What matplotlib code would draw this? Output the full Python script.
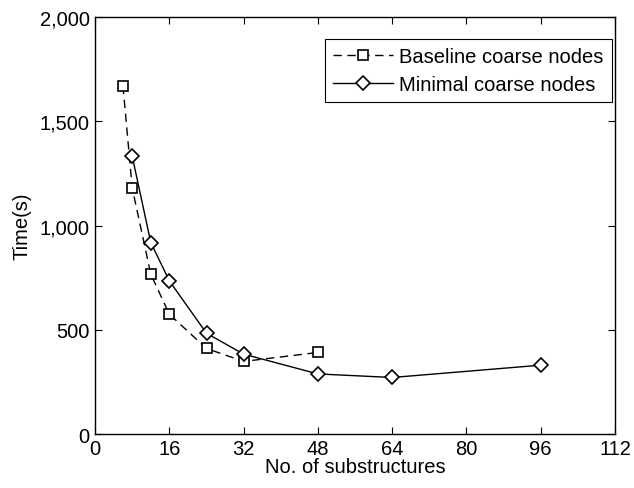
import matplotlib
matplotlib.use("Agg")
import matplotlib.pyplot as plt
from matplotlib.ticker import FuncFormatter

plt.rcParams['font.family'] = ['Liberation Sans', 'DejaVu Sans']

# timings per number of substructures
base_n = [6, 8, 12, 16, 24, 32, 48]
base_t = [1670, 1180, 767, 575, 411, 349, 392]
min_n = [8, 12, 16, 24, 32, 48, 64, 96]
min_t = [1332, 919, 735, 484, 384, 289, 272, 331]

x_ticks = [0, 16, 32, 48, 64, 80, 96, 112]
y_ticks = [0, 500, 1000, 1500, 2000]

fs = 14.5

fig = plt.figure(figsize=(6.34, 4.89), dpi=100)
ax = fig.add_axes([0.150, 0.110, 0.820, 0.853])

ax.plot(base_n, base_t, color='black', linestyle=(0, (6, 4)), linewidth=1.0,
        marker='s', markersize=7, markerfacecolor='white',
        markeredgecolor='black', markeredgewidth=1.2,
        label='Baseline coarse nodes')
ax.plot(min_n, min_t, color='black', linestyle='-', linewidth=1.0,
        marker='D', markersize=7.5, markerfacecolor='white',
        markeredgecolor='black', markeredgewidth=1.2,
        label='Minimal coarse nodes')

ax.set_xlim(0, 112)
ax.set_ylim(0, 2000)
ax.set_xticks(x_ticks)
ax.set_yticks(y_ticks)
ax.yaxis.set_major_formatter(FuncFormatter(lambda v, p: f"{int(v):,}"))
ax.tick_params(direction='in', top=True, right=True, length=5,
               labelsize=fs, width=0.8)
ax.tick_params(axis='x', pad=3.5)
ax.tick_params(axis='y', pad=4)
for s in ax.spines.values():
    s.set_linewidth(1.0)

ax.set_xlabel('No. of substructures', fontsize=fs, labelpad=-1)
ax.set_ylabel('Time(s)', fontsize=fs, labelpad=6)

leg = ax.legend(loc='upper right', bbox_to_anchor=(0.994, 0.947),
                fontsize=fs, frameon=True, fancybox=False,
                edgecolor='black', framealpha=1, borderaxespad=0,
                handlelength=3.0, handletextpad=0.3, borderpad=0.4,
                labelspacing=0.45)
leg.get_frame().set_linewidth(0.8)

fig.savefig('out.png', dpi=100)
